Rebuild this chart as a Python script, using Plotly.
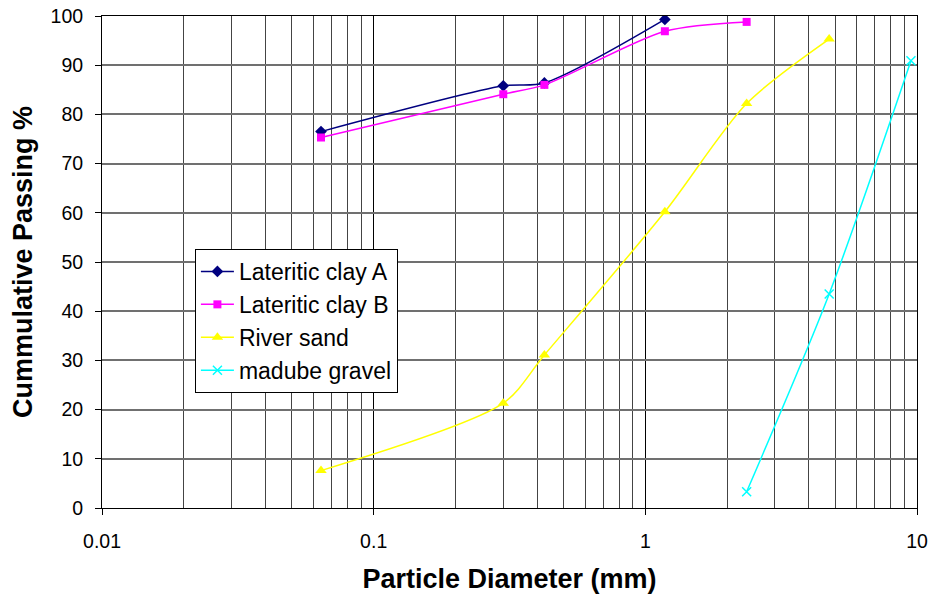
import plotly.graph_objects as go

clay_a_x = [0.064, 0.30, 0.425, 1.18]
clay_a_y = [76.5, 85.8, 86.4, 99.3]
clay_b_x = [0.064, 0.30, 0.425, 1.18, 2.36]
clay_b_y = [75.3, 84.1, 86.0, 96.9, 98.8]
sand_x = [0.064, 0.30, 0.425, 1.18, 2.36, 4.75]
sand_y = [7.6, 21.3, 31.1, 60.2, 82.2, 95.3]
gravel_x = [2.36, 4.75, 9.5]
gravel_y = [3.3, 43.5, 90.9]

x_ticks = [0.01, 0.1, 1, 10]
x_tick_labels = ["0.01", "0.1", "1", "10"]
y_ticks = list(range(0, 101, 10))

FONT = "Arial, Liberation Sans, sans-serif"

fig = go.Figure()
series = [
    ("Lateritic clay A", clay_a_x, clay_a_y, "#000080", "diamond", 9, 1.5),
    ("Lateritic clay B", clay_b_x, clay_b_y, "#FF00FF", "square", 8, 1.5),
    ("River sand", sand_x, sand_y, "#FFFF00", "triangle-up", 10, 1.5),
    ("madube gravel", gravel_x, gravel_y, "#00FFFF", "x-thin", 9, 1.5),
]
for name, xs, ys, col, sym, size, lw in series:
    fig.add_trace(go.Scatter(
        x=xs, y=ys, name=name, mode="lines+markers",
        line=dict(color=col, width=lw, shape="spline", smoothing=0.8),
        marker=dict(symbol=sym, size=size, color=col,
                    line=dict(color=col, width=1.5 if sym == "x-thin" else 0)),
    ))

fig.update_layout(
    width=930, height=596,
    margin=dict(l=102, r=13, t=16, b=88),
    paper_bgcolor="white", plot_bgcolor="white",
    font=dict(family=FONT, size=19.5, color="black"),
    showlegend=True,
    legend=dict(
        x=0.114, y=0.5264, xanchor="left", yanchor="top",
        bgcolor="white", bordercolor="black", borderwidth=1,
        font=dict(family=FONT, size=23, color="black"),
        tracegroupgap=0, itemwidth=33,
    ),
    xaxis=dict(
        type="log", range=[-2, 1], automargin=False,
        tickvals=x_ticks, ticktext=x_tick_labels,
        tickfont=dict(size=19.5),
        showgrid=True, gridcolor="black", gridwidth=1,
        minor=dict(dtick="D1", showgrid=True, gridcolor="#444444", gridwidth=1, ticks=""),
        showline=True, linecolor="black", linewidth=1, mirror=True,
        ticks="outside", ticklen=6, tickcolor="black",
        ticklabelstandoff=10,
        title=dict(text="<b>Particle Diameter (mm)</b>", font=dict(family=FONT, size=27), standoff=17),
        zeroline=False,
    ),
    yaxis=dict(
        range=[0, 100], tickvals=y_ticks, automargin=False,
        tickfont=dict(size=19.5),
        showgrid=True, gridcolor="#707070", gridwidth=1.5,
        showline=True, linecolor="black", linewidth=1, mirror=True,
        ticks="outside", ticklen=6, tickcolor="black",
        ticklabelstandoff=8,
        title=dict(text="<b>Cummulative Passing %</b>", font=dict(family=FONT, size=27), standoff=10),
        zeroline=False,
    ),
)

fig.write_html("out.html")
